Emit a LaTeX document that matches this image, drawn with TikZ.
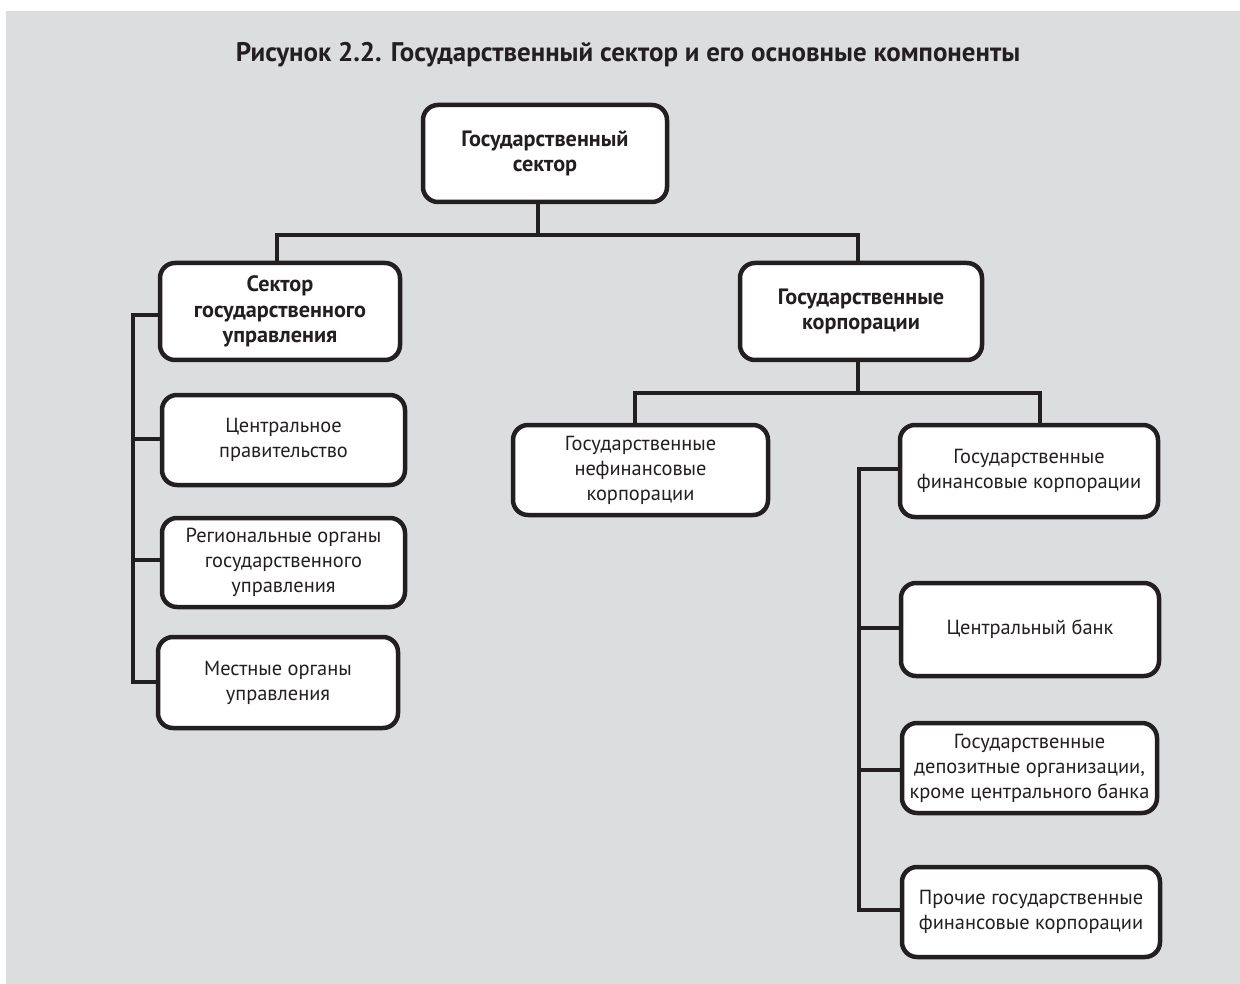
\documentclass[tikz,border=0pt]{standalone}
\usepackage{fontspec}
\setmainfont{PT Sans}
\definecolor{panel}{HTML}{DCDDDF}
\definecolor{ink}{HTML}{231F20}
\begin{document}
\begin{tikzpicture}[x=1pt,y=-1pt,
  box/.style={draw=ink,line width=4.5pt,fill=white,rounded corners=15pt,
    align=center,text=ink,inner sep=0pt,
    font=\fontsize{20.4}{25}\selectfont},
  headbox/.style={box,font=\fontsize{22.2}{25.5}\selectfont\bfseries},
  link/.style={draw=ink,line width=3.6pt}]
\useasboundingbox (0,0) rectangle (1240,984);
\fill[panel] (6,11) rectangle (1240,984);

\node[text=ink,font=\fontsize{26.9}{30}\selectfont\bfseries] (title) at (628,55)
  {Рисунок 2.2. Государственный сектор и его основные компоненты};

% upper levels
\node[headbox,minimum width=244pt,minimum height=97pt] (gs) at (545,153.5)
  {Государственный\\сектор};
\node[headbox,minimum width=240pt,minimum height=97pt] (sgu) at (280,311.5)
  {Сектор\\государственного\\управления};
\node[headbox,minimum width=242pt,minimum height=97pt] (corp) at (861,311.5)
  {Государственные\\корпорации};

% general government branch
\node[box,minimum width=243pt,minimum height=90pt] (cg) at (283.5,440)
  {Центральное\\правительство};
\node[box,minimum width=243pt,minimum height=89pt] (reg) at (283.5,562.5)
  {Региональные органы\\государственного\\управления};
\node[box,minimum width=240pt,minimum height=91pt] (loc) at (278,682.5)
  {Местные органы\\управления};

% corporations branch
\node[box,minimum width=255pt,minimum height=90pt] (nonfin) at (640.5,470)
  {Государственные\\нефинансовые\\корпорации};
\node[box,minimum width=258pt,minimum height=92pt] (fin) at (1029,471)
  {Государственные\\финансовые корпорации};
\node[box,minimum width=258pt,minimum height=93pt] (cb) at (1030,629.5)
  {Центральный банк};
\node[box,minimum width=255pt,minimum height=90pt] (dep) at (1029.5,768)
  {Государственные\\депозитные организации,\\кроме центрального банка};
\node[box,minimum width=258pt,minimum height=90pt] (oth) at (1031,912)
  {Прочие государственные\\финансовые корпорации};

% junction points
\coordinate (j1) at (538,235);
\coordinate (j2) at (858,393);
\coordinate (ls) at (133,315);
\coordinate (rs) at (859,469);

% connectors from the top box
\draw[link] (gs.south -| j1) -- (j1);
\draw[link] (sgu.north -| 277,0) |- (j1) -| (corp.north -| 858,0);

% corporations to their two groups
\draw[link] (corp.south -| j2) -- (j2);
\draw[link] (nonfin.north -| 635,0) |- (j2) -| (fin.north -| 1040,0);

% left spine
\draw[link] (sgu.west |- ls) -- (ls) |- (loc.west |- 0,682);
\draw[link] (ls |- 0,439) -- (cg.west |- 0,439);
\draw[link] (ls |- 0,560) -- (reg.west |- 0,560);

% right spine
\draw[link] (fin.west |- rs) -- (rs) |- (oth.west |- 0,910);
\draw[link] (rs |- 0,628) -- (cb.west |- 0,628);
\draw[link] (rs |- 0,770) -- (dep.west |- 0,770);
\end{tikzpicture}
\end{document}
